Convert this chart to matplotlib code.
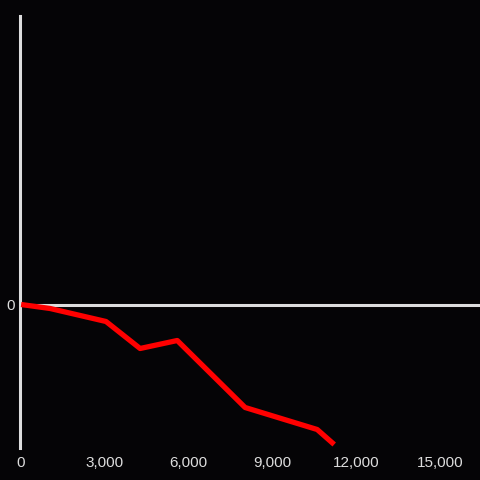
import matplotlib.pyplot as plt
from matplotlib.ticker import FuncFormatter

xs = [0, 1040, 3040, 4260, 5590, 8020, 10600, 11210]
ys = [0, -4, -17, -44, -36, -103, -125, -140]
xticks = [0, 3000, 6000, 9000, 12000, 15000]

bg = '#050406'
fg = '#dddddd'

fig = plt.figure(figsize=(4.8, 4.8), dpi=100, facecolor=bg)
ax = fig.add_axes([20 / 480, 32 / 480, 460 / 480, 432 / 480], facecolor=bg)

ax.axhline(0, color=fg, lw=2.2, zorder=1)
ax.plot(xs, ys, color='#ff0000', lw=3.8, solid_capstyle='butt', zorder=3)

ax.set_xlim(-40, 16430)
ax.set_ylim(-143.5, 288.5)
ax.set_xticks(xticks)
ax.xaxis.set_major_formatter(FuncFormatter(lambda v, p: f'{int(v):,}'))
ax.set_yticks([0])

for s in ['top', 'right', 'bottom']:
    ax.spines[s].set_visible(False)
ax.spines['left'].set_color(fg)
ax.spines['left'].set_linewidth(2.2)

ax.tick_params(axis='both', length=0, colors=fg, labelsize=11)
ax.tick_params(axis='x', pad=6)
ax.tick_params(axis='y', pad=4)
for lab in ax.get_xticklabels() + ax.get_yticklabels():
    lab.set_family('Liberation Sans')

fig.savefig('out.png', dpi=100, facecolor=bg)
